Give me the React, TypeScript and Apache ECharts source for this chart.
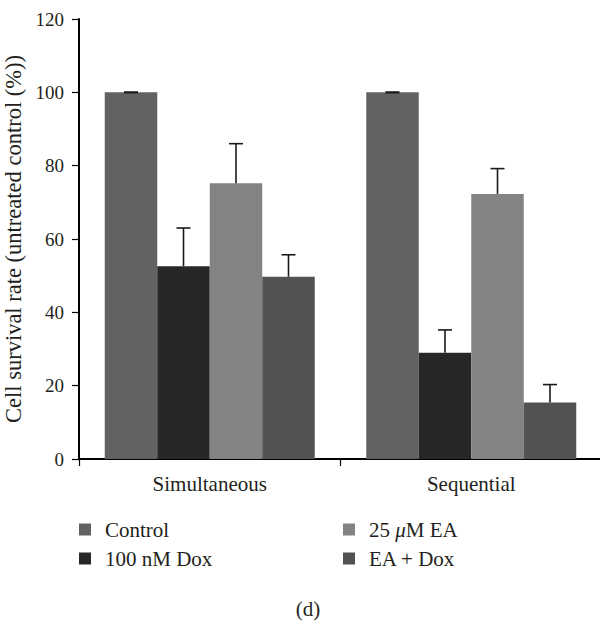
import React, { useEffect, useRef } from "react";
import * as echarts from "echarts";

const categories = ["Simultaneous", "Sequential"];
const seriesNames = ["Control", "100 nM Dox", "25 μM EA", "EA + Dox"];
const controlValues = [100, 100];
const doxValues = [52.6, 29.0];
const eaValues = [75.2, 72.3];
const comboValues = [49.7, 15.4];
const controlErrors = [0, 0];
const doxErrors = [10.4, 6.2];
const eaErrors = [10.8, 6.9];
const comboErrors = [6.0, 4.9];
const yTicks = [0, 20, 40, 60, 80, 100, 120];

const colors = ["#626262", "#262827", "#828382", "#515352"];
const FONT = "'Liberation Serif', 'Times New Roman', serif";
const BAR_WIDTH = 52.5;

export default function App() {
  const ref = useRef<HTMLDivElement>(null);
  useEffect(() => {
    if (!ref.current) return;
    const chart = echarts.init(ref.current, undefined, { renderer: "svg" });
    const values = [controlValues, doxValues, eaValues, comboValues];
    const errors = [controlErrors, doxErrors, eaErrors, comboErrors];

    const barSeries = seriesNames.map((name, i) => ({
      type: "bar",
      name,
      data: values[i],
      barWidth: BAR_WIDTH,
      barGap: "0%",
      itemStyle: { color: colors[i] },
      z: 2,
    }));

    const errSeries = seriesNames.map((_, i) => ({
      type: "custom",
      z: 10,
      data: categories.map((_, j) => [j, values[i][j], errors[i][j]]),
      renderItem: (params: any, api: any) => {
        const cat = api.value(0);
        const val = api.value(1);
        const err = api.value(2);
        const base = api.coord([cat, val]);
        const top = api.coord([cat, val + err]);
        const x = base[0] + (i - 1.5) * BAR_WIDTH;
        const st = { stroke: "#1a1a1a", lineWidth: 1.6 };
        return {
          type: "group",
          children: [
            { type: "line", shape: { x1: x, y1: base[1], x2: x, y2: top[1] }, style: st },
            { type: "line", shape: { x1: x - 7, y1: top[1], x2: x + 7, y2: top[1] }, style: { ...st, lineWidth: err === 0 ? 2.2 : 1.6 } },
          ],
        };
      },
    }));

    const rich = { i: { fontStyle: "italic", fontFamily: FONT, fontSize: 21, color: "#231f20" } };
    const legendText = {
      fontFamily: FONT,
      fontSize: 21,
      color: "#231f20",
      padding: [0, 0, 0, 9],
      lineHeight: 20,
      rich,
    };
    const fmt = (n: string) => n.replace("μ", "{i|μ}");

    chart.setOption({
      animation: false,
      textStyle: { fontFamily: FONT },
      grid: {
        left: 79,
        top: 19,
        width: 523,
        height: 440,
        containLabel: false,
        outerBoundsMode: "none",
      },
      legend: [
        {
          data: [seriesNames[0], seriesNames[1]],
          orient: "vertical",
          left: 79,
          top: 519,
          itemWidth: 12,
          itemHeight: 12,
          itemGap: 8,
          icon: "rect",
          padding: 0,
          textStyle: legendText,
          formatter: fmt,
        },
        {
          data: [seriesNames[2], seriesNames[3]],
          orient: "vertical",
          left: 343,
          top: 519,
          itemWidth: 12,
          itemHeight: 12,
          itemGap: 8,
          icon: "rect",
          padding: 0,
          textStyle: legendText,
          formatter: fmt,
        },
      ],
      xAxis: {
        type: "category",
        data: categories,
        axisLine: { lineStyle: { color: "#000", width: 2 } },
        axisTick: { show: true, length: 7, lineStyle: { color: "#000", width: 1.2 } },
        axisLabel: { fontFamily: FONT, fontSize: 21, color: "#231f20", margin: 14 },
      },
      yAxis: {
        type: "value",
        min: 0,
        max: 120,
        interval: 20,
        name: "Cell survival rate (untreated control (%))",
        nameLocation: "middle",
        nameGap: 51,
        nameTextStyle: { fontFamily: FONT, fontSize: 22.5, color: "#231f20" },
        axisLine: { show: true, lineStyle: { color: "#000", width: 2 } },
        axisTick: { show: true, length: 7, lineStyle: { color: "#000", width: 1.2 } },
        splitLine: { show: false },
        axisLabel: {
          fontFamily: FONT,
          fontSize: 19,
          color: "#231f20",
          margin: 15,
          formatter: (v: number) => (yTicks.includes(v) ? String(v) : ""),
        },
      },
      graphic: [
        {
          type: "text",
          x: 308,
          y: 609,
          style: {
            text: "(d)",
            fontFamily: FONT,
            fontSize: 21,
            fill: "#231f20",
            textAlign: "center",
            textVerticalAlign: "middle",
          },
        },
      ],
      series: [...barSeries, ...errSeries],
    });
    return () => chart.dispose();
  }, []);
  return (
    <div
      ref={ref}
      style={{ position: "absolute", left: 0, top: 0, width: 600, height: 625, background: "#fff" }}
    />
  );
}
